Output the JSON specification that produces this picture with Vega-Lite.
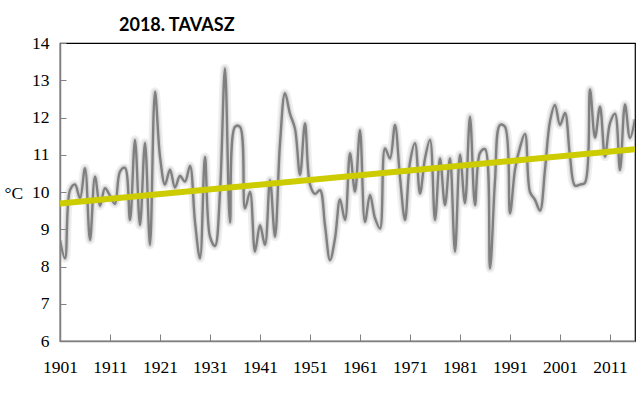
{
  "$schema": "https://vega.github.io/schema/vega-lite/v6.json",
  "width": 575,
  "height": 298,
  "autosize": {"type": "none"},
  "padding": {"left": 60, "top": 43, "right": 5, "bottom": 52},
  "background": "white",
  "config": {
    "view": {"stroke": "#000000", "strokeWidth": 1.2},
    "axis": {
      "grid": false,
      "domainColor": "#808080",
      "domainWidth": 1.5,
      "tickColor": "#808080",
      "tickWidth": 1,
      "labelFont": "Liberation Serif",
      "labelFontSize": 17.5,
      "labelColor": "#000000"
    }
  },
  "title": {
    "text": "2018. TAVASZ",
    "anchor": "start",
    "frame": "group",
    "dx": 59,
    "dy": 5,
    "font": "Lato",
    "fontSize": 18,
    "fontWeight": "bold",
    "color": "#000000",
    "offset": 4
  },
  "datasets": {
    "temp": [
      {"year": 1901, "value": 8.7}, {"year": 1902, "value": 8.22}, {"year": 1903, "value": 10.05}, {"year": 1904, "value": 10.2},
      {"year": 1905, "value": 9.83}, {"year": 1906, "value": 10.64}, {"year": 1907, "value": 8.71}, {"year": 1908, "value": 10.41},
      {"year": 1909, "value": 9.63}, {"year": 1910, "value": 10.1}, {"year": 1911, "value": 9.9}, {"year": 1912, "value": 9.68},
      {"year": 1913, "value": 10.55}, {"year": 1914, "value": 10.65}, {"year": 1915, "value": 9.25}, {"year": 1916, "value": 11.4},
      {"year": 1917, "value": 9.11}, {"year": 1918, "value": 11.32}, {"year": 1919, "value": 8.58}, {"year": 1920, "value": 12.69},
      {"year": 1921, "value": 10.95}, {"year": 1922, "value": 10.2}, {"year": 1923, "value": 10.6}, {"year": 1924, "value": 10.12},
      {"year": 1925, "value": 10.43}, {"year": 1926, "value": 10.28}, {"year": 1927, "value": 10.7}, {"year": 1928, "value": 9.2},
      {"year": 1929, "value": 8.22}, {"year": 1930, "value": 10.94}, {"year": 1931, "value": 8.8}, {"year": 1932, "value": 8.55},
      {"year": 1933, "value": 10.0}, {"year": 1934, "value": 13.32}, {"year": 1935, "value": 9.18}, {"year": 1936, "value": 11.75},
      {"year": 1937, "value": 11.75}, {"year": 1938, "value": 9.56}, {"year": 1939, "value": 10.0}, {"year": 1940, "value": 8.4},
      {"year": 1941, "value": 9.11}, {"year": 1942, "value": 8.58}, {"year": 1943, "value": 10.32}, {"year": 1944, "value": 8.8},
      {"year": 1945, "value": 11.3}, {"year": 1946, "value": 12.65}, {"year": 1947, "value": 12.1}, {"year": 1948, "value": 11.7},
      {"year": 1949, "value": 10.46}, {"year": 1950, "value": 11.84}, {"year": 1951, "value": 10.2}, {"year": 1952, "value": 9.95},
      {"year": 1953, "value": 10.05}, {"year": 1954, "value": 9.1}, {"year": 1955, "value": 8.17}, {"year": 1956, "value": 8.75},
      {"year": 1957, "value": 9.8}, {"year": 1958, "value": 9.25}, {"year": 1959, "value": 11.04}, {"year": 1960, "value": 10.01},
      {"year": 1961, "value": 11.66}, {"year": 1962, "value": 9.2}, {"year": 1963, "value": 9.92}, {"year": 1964, "value": 9.3},
      {"year": 1965, "value": 9.02}, {"year": 1966, "value": 11.17}, {"year": 1967, "value": 10.9}, {"year": 1968, "value": 11.8},
      {"year": 1969, "value": 10.4}, {"year": 1970, "value": 9.25}, {"year": 1971, "value": 10.8}, {"year": 1972, "value": 11.31},
      {"year": 1973, "value": 9.96}, {"year": 1974, "value": 10.9}, {"year": 1975, "value": 11.4}, {"year": 1976, "value": 9.25},
      {"year": 1977, "value": 10.9}, {"year": 1978, "value": 9.65}, {"year": 1979, "value": 10.9}, {"year": 1980, "value": 8.4},
      {"year": 1981, "value": 11.0}, {"year": 1982, "value": 9.7}, {"year": 1983, "value": 12.02}, {"year": 1984, "value": 9.65},
      {"year": 1985, "value": 11.05}, {"year": 1986, "value": 11.15}, {"year": 1987, "value": 7.95}, {"year": 1988, "value": 10.3},
      {"year": 1989, "value": 11.8}, {"year": 1990, "value": 11.75}, {"year": 1991, "value": 9.43}, {"year": 1992, "value": 10.6},
      {"year": 1993, "value": 11.2}, {"year": 1994, "value": 11.56}, {"year": 1995, "value": 10.0}, {"year": 1996, "value": 9.79},
      {"year": 1997, "value": 9.5}, {"year": 1998, "value": 10.6}, {"year": 1999, "value": 11.9}, {"year": 2000, "value": 12.34},
      {"year": 2001, "value": 11.8}, {"year": 2002, "value": 12.12}, {"year": 2003, "value": 10.95}, {"year": 2004, "value": 10.17},
      {"year": 2005, "value": 10.2}, {"year": 2006, "value": 10.25}, {"year": 2007, "value": 12.75}, {"year": 2008, "value": 11.46},
      {"year": 2009, "value": 12.29}, {"year": 2010, "value": 10.95}, {"year": 2011, "value": 11.85}, {"year": 2012, "value": 12.1},
      {"year": 2013, "value": 10.59}, {"year": 2014, "value": 12.35}, {"year": 2015, "value": 11.45}, {"year": 2016, "value": 11.95}
    ],
    "trend": [
      {"year": 1901, "value": 9.69},
      {"year": 2016, "value": 11.15}
    ]
  },
  "encoding": {
    "x": {
      "field": "year",
      "type": "quantitative",
      "scale": {"domain": [1901, 2016], "nice": false, "zero": false},
      "axis": {
        "title": null,
        "values": [1901, 1911, 1921, 1931, 1941, 1951, 1961, 1971, 1981, 1991, 2001, 2011],
        "format": "d",
        "tickSize": -7,
        "labelPadding": 24,
        "labelFlush": false
      }
    },
    "y": {
      "field": "value",
      "type": "quantitative",
      "scale": {"domain": [6, 14], "nice": false, "zero": false},
      "axis": {
        "title": "°C",
        "titleAngle": 0,
        "titleFont": "Liberation Serif",
        "titleFontSize": 17.5,
        "titleFontWeight": "normal",
        "titleColor": "#000000",
        "titleX": -56,
        "titleY": 150,
        "titleAlign": "left",
        "titleBaseline": "middle",
        "values": [6, 7, 8, 9, 10, 11, 12, 13, 14],
        "tickSize": -6,
        "labelPadding": 17,
        "labelFlush": false
      }
    }
  },
  "layer": [
    {
      "data": {"name": "temp"},
      "mark": {"type": "line", "interpolate": "catmull-rom", "clip": true, "color": "#9a9a9a", "strokeWidth": 9, "opacity": 0.16}
    },
    {
      "data": {"name": "temp"},
      "mark": {"type": "line", "interpolate": "catmull-rom", "clip": true, "color": "#9a9a9a", "strokeWidth": 5, "opacity": 0.28}
    },
    {
      "data": {"name": "temp"},
      "mark": {"type": "line", "interpolate": "catmull-rom", "clip": true, "color": "#808080", "strokeWidth": 2.4}
    },
    {
      "data": {"name": "trend"},
      "mark": {"type": "line", "clip": true, "color": "#cccc00", "strokeWidth": 6}
    }
  ]
}
